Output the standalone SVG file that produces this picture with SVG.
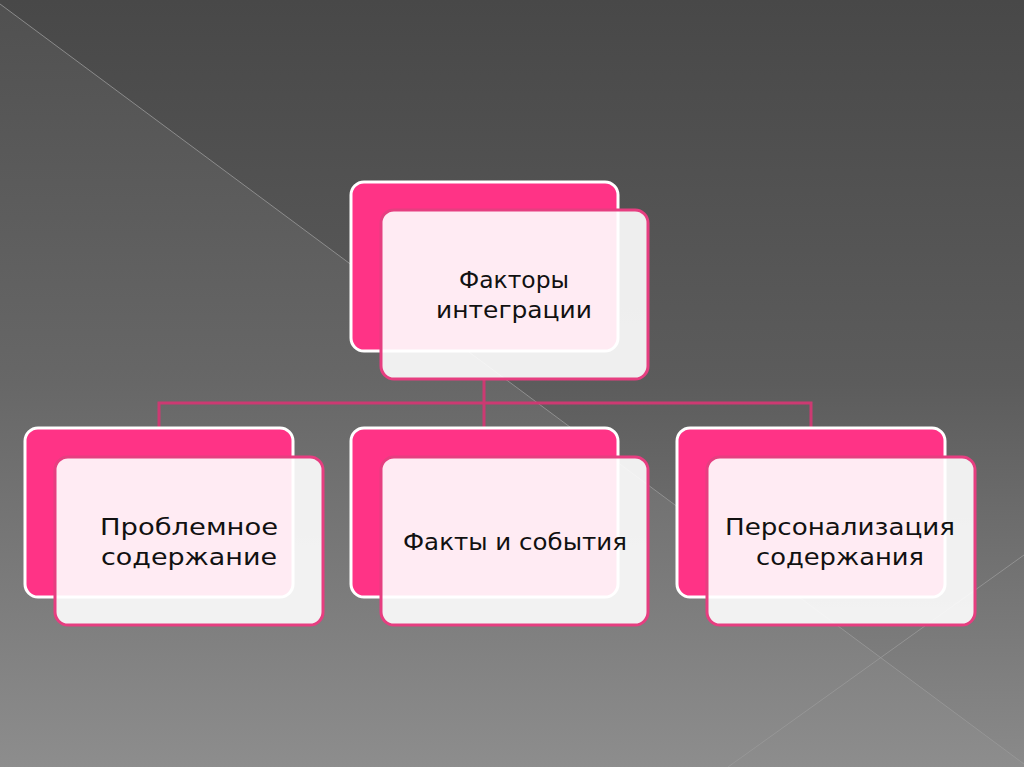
<svg xmlns="http://www.w3.org/2000/svg" width="1024" height="767" viewBox="0 0 1024 767">
<defs>
<linearGradient id="bgUpper" x1="0" y1="0" x2="0" y2="1">
<stop offset="0" stop-color="#484848"/>
<stop offset="0.5" stop-color="#5c5c5c"/>
<stop offset="1" stop-color="#8a8a8a"/>
</linearGradient>
<linearGradient id="bgLower" gradientUnits="userSpaceOnUse" x1="0" y1="0" x2="0" y2="767">
<stop offset="0" stop-color="#505050"/>
<stop offset="0.5" stop-color="#676767"/>
<stop offset="1" stop-color="#8d8d8d"/>
</linearGradient>
</defs>
<style>
.back{fill:#ff3386;stroke:#ffffff;stroke-width:3}
.front{fill:#ffffff;fill-opacity:0.9;stroke:#e63e80;stroke-width:3}
.lbl{font-family:"DejaVu Sans","Liberation Sans",sans-serif;font-size:23px;fill:#111111;text-anchor:middle}
.conn{fill:none;stroke:#cc3a72;stroke-width:3}
.deco{stroke:#9a9a9a;stroke-width:1;opacity:0.8}
</style>
<rect x="0" y="0" width="1024" height="767" fill="url(#bgUpper)"/>
<polygon points="0,4 1024,764 1024,767 0,767" fill="url(#bgLower)"/>
<line class="deco" x1="0" y1="4" x2="1024" y2="764"/>
<line class="deco" x1="1024" y1="555" x2="728" y2="767"/>
<g id="connectors">
<path class="conn" d="M484,379 V403 M159,428 V403 H811 V428 M484,403 V428"/>
</g>
<g id="node-top">
<rect class="back" x="351" y="182" width="267" height="169" rx="13"/>
<rect class="front" x="381" y="210" width="267" height="169" rx="13"/>
<text class="lbl" x="514" y="288" textLength="110" lengthAdjust="spacingAndGlyphs">Факторы</text>
<text class="lbl" x="514" y="318" textLength="156" lengthAdjust="spacingAndGlyphs">интеграции</text>
</g>
<g id="node-left">
<rect class="back" x="25" y="428" width="268" height="169" rx="13"/>
<rect class="front" x="55" y="457" width="268" height="168" rx="13"/>
<text class="lbl" x="189" y="535" textLength="178" lengthAdjust="spacingAndGlyphs">Проблемное</text>
<text class="lbl" x="189" y="565" textLength="176" lengthAdjust="spacingAndGlyphs">содержание</text>
</g>
<g id="node-middle">
<rect class="back" x="351" y="428" width="267" height="169" rx="13"/>
<rect class="front" x="381" y="457" width="267" height="168" rx="13"/>
<text class="lbl" x="515" y="550" textLength="224" lengthAdjust="spacingAndGlyphs">Факты и события</text>
</g>
<g id="node-right">
<rect class="back" x="677" y="428" width="268" height="169" rx="13"/>
<rect class="front" x="707" y="457" width="268" height="168" rx="13"/>
<text class="lbl" x="840" y="535" textLength="230" lengthAdjust="spacingAndGlyphs">Персонализация</text>
<text class="lbl" x="840" y="565" textLength="168" lengthAdjust="spacingAndGlyphs">содержания</text>
</g>
</svg>
